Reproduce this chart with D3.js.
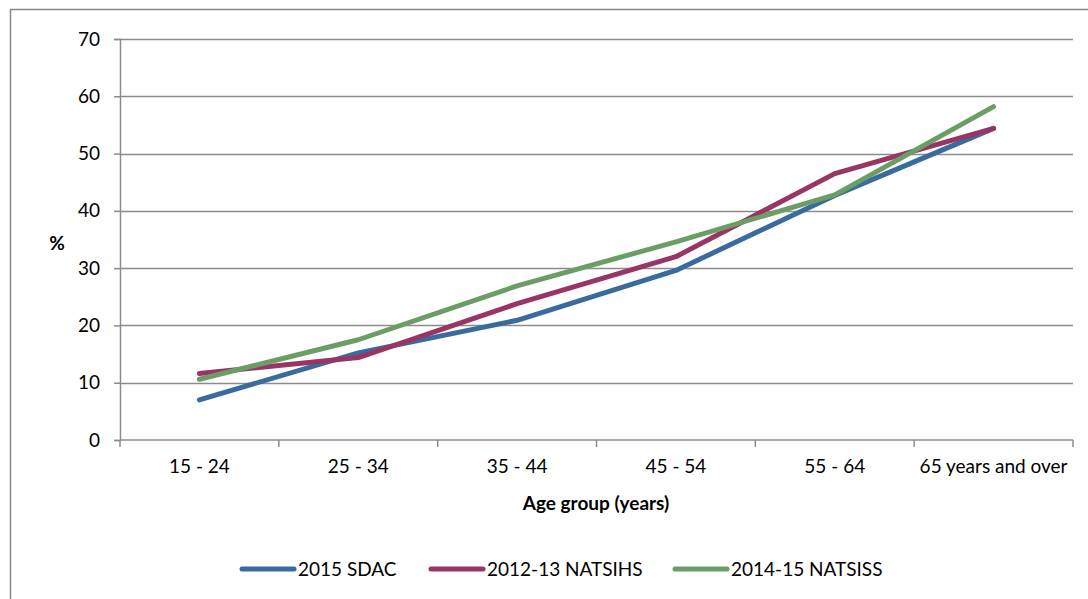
<!DOCTYPE html>
<html><head><meta charset="utf-8">
<script src="https://cdn.jsdelivr.net/npm/d3@7"></script>
<style>
html,body{margin:0;padding:0;background:#fff;}
svg text{font-family:Lato,"Open Sans",sans-serif;fill:#000;}
</style></head>
<body><svg id="c" width="1088" height="599"></svg>
<script>
const categories = ["15 - 24","25 - 34","35 - 44","45 - 54","55 - 64","65 years and over"];
const seriesNames = ["2015 SDAC","2012-13 NATSIHS","2014-15 NATSISS"];
const sdac = [7.0, 15.2, 20.9, 29.6, 42.7, 54.4];
const natsihs = [11.6, 14.4, 23.8, 32.0, 46.5, 54.4];
const natsiss = [10.6, 17.5, 26.9, 34.6, 42.8, 58.2];
const yTicks = [0,10,20,30,40,50,60,70];
const colors = ["#3A6B9F","#983565","#6B9E64"];
const FS = 19;

const svg = d3.select("#c");
svg.append("rect").attr("x",10.5).attr("y",9.5).attr("width",1100).attr("height",620)
  .attr("fill","#fff").attr("stroke","#888").attr("stroke-width",1.5);

const L=120, R=1073, T=39, B=440;
const x = d3.scaleBand().domain(categories).range([L,R]);
const y = d3.scaleLinear().domain([0,70]).range([B,T]);

// gridlines
svg.append("g").selectAll("line").data(yTicks.slice(1)).join("line")
  .attr("x1",L).attr("x2",R).attr("y1",d=>Math.round(y(d))+0.5).attr("y2",d=>Math.round(y(d))+0.5)
  .attr("stroke","#8c8c8c").attr("stroke-width",1.5);

// y axis
const ya = svg.append("g").attr("transform",`translate(${L},0)`)
  .call(d3.axisLeft(y).tickValues(yTicks).tickSize(6).tickPadding(14));
ya.attr("font-size",FS).attr("font-family","Lato,'Open Sans',sans-serif");
ya.select(".domain").attr("stroke","#8c8c8c").attr("stroke-width",1.5);
ya.selectAll(".tick line").attr("stroke","#8c8c8c").attr("stroke-width",1.5);
ya.selectAll("text").attr("font-size",FS);

// x axis
const xa = svg.append("g").attr("transform",`translate(0,${B})`)
  .call(d3.axisBottom(x).tickSize(0).tickPadding(20));
xa.attr("font-size",FS).attr("font-family","Lato,'Open Sans',sans-serif");
xa.select(".domain").attr("stroke","#8c8c8c").attr("stroke-width",1.5).attr("d",`M${L},0H${R}`);
xa.selectAll("text").attr("font-size",FS);
// category boundary ticks
const bounds = categories.map(c=>x(c)).concat([R]);
svg.append("g").selectAll("line").data(bounds).join("line")
  .attr("x1",d=>d).attr("x2",d=>d).attr("y1",B).attr("y2",B+7)
  .attr("stroke","#8c8c8c").attr("stroke-width",1.5);

// titles
svg.append("text").attr("x",57).attr("y",250).attr("text-anchor","middle")
  .attr("font-size",FS).attr("font-weight","bold").text("%");
svg.append("text").attr("x",596).attr("y",510).attr("text-anchor","middle")
  .attr("font-size",FS).attr("font-weight","bold").text("Age group (years)");

// lines
const cx = c => x(c)+x.bandwidth()/2;
const line = d3.line().x((d,i)=>cx(categories[i])).y(d=>y(d));
[sdac,natsihs,natsiss].forEach((s,i)=>{
  svg.append("path").datum(s).attr("d",line).attr("fill","none")
    .attr("stroke",colors[i]).attr("stroke-width",5).attr("stroke-linecap","round").attr("stroke-linejoin","round");
});

// legend
const legX = [242,431,675];
seriesNames.forEach((n,i)=>{
  svg.append("line").attr("x1",legX[i]).attr("x2",legX[i]+52).attr("y1",569).attr("y2",569)
    .attr("stroke",colors[i]).attr("stroke-width",5).attr("stroke-linecap","round");
  svg.append("text").attr("x",legX[i]+56).attr("y",576).attr("font-size",FS).text(n);
});
</script></body></html>
